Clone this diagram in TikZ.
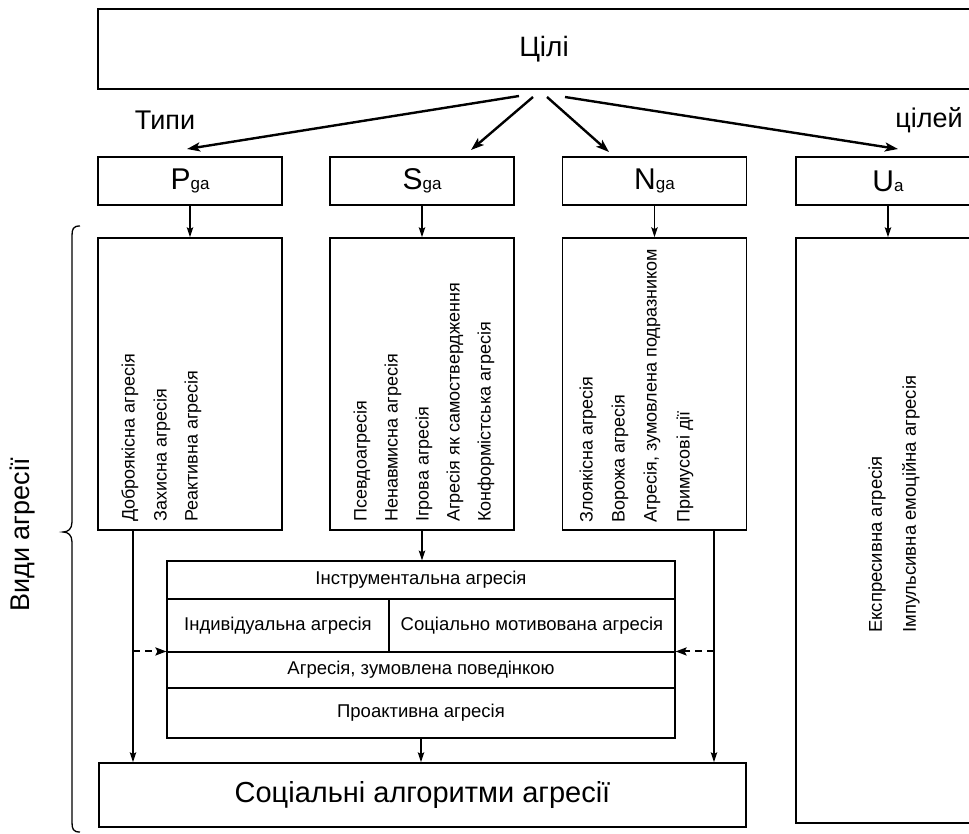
\documentclass[tikz,border=0pt]{standalone}
\usepackage{fontspec}
\setmainfont{Liberation Sans}
\usetikzlibrary{arrows.meta,calc}
\newcommand\myfs[1]{\fontsize{#1}{#1}\selectfont}
\begin{document}
\begin{tikzpicture}[x=1pt,y=-1pt,
  box/.style={draw, line width=1.6pt, inner sep=0pt},
  cell/.style={draw, line width=1.1pt, inner sep=0pt, font=\myfs{18.5}},
  vlab/.style={rotate=90, anchor=west, inner sep=0pt, font=\myfs{18}},
  bigarr/.style={line width=2.4pt, -{Stealth[length=13pt,width=9pt,inset=3pt]}},
  arr/.style={line width=1.3pt, -{Stealth[length=10pt,width=6.5pt,inset=2pt]}},
  dasharr/.style={line width=2pt, dash pattern=on 7pt off 5pt, -{Stealth[length=11pt,width=8pt,inset=2pt]}},
]
\useasboundingbox (0,0) rectangle (969,834);
\clip (0,0) rectangle (969,834);

% top box
\node[box, minimum width=892, minimum height=80] (goals) at (544,49) {\myfs{28}Цілі};
\node[font=\myfs{27}] (types) at (165,120) {Типи};
\node[font=\myfs{27}] (ofgoals) at (929,120) {цілей};

% small boxes
\node[box, minimum width=184, minimum height=48] (pga) at (190,181) {\myfs{30}P\myfs{17}ga};
\node[box, minimum width=184, minimum height=48] (sga) at (422,181) {\myfs{30}S\myfs{17}ga};
\node[box, minimum width=184, minimum height=48] (nga) at (654.5,181) {\myfs{30}N\myfs{17}ga};
\node[box, minimum width=184, minimum height=48] (ua) at (888,181) {\myfs{30}U\myfs{17}a};

% big boxes
\node[box, minimum width=184, minimum height=292] (pgab) at (190,384) {};
\node[box, minimum width=184, minimum height=292] (sgab) at (422,384) {};
\node[box, minimum width=184, minimum height=292] (ngab) at (654.5,384) {};
\node[box, minimum width=184, minimum height=585] (uab) at (888,530.5) {};

% rotated labels
\node[vlab] (p1) at (130,522) {Доброякісна агресія};
\node[vlab] (p2) at (162,522) {Захисна агресія};
\node[vlab] (p3) at (193,522) {Реактивна агресія};

\node[vlab] (s1) at (362,522) {Псевдоагресія};
\node[vlab] (s2) at (393,522) {Ненавмисна агресія};
\node[vlab] (s3) at (424,522) {Ігрова агресія};
\node[vlab] (s4) at (455,522) {Агресія як самоствердження};
\node[vlab] (s5) at (486,522) {Конформістська агресія};

\node[vlab] (n1) at (588,523) {Злоякісна агресія};
\node[vlab] (n2) at (620,523) {Ворожа агресія};
\node[vlab] (n3) at (652,523) {Агресія, зумовлена подразником};
\node[vlab] (n4) at (685,523) {Примусові дії};

\node[vlab, font=\myfs{18.5}] (u1) at (877,633) {Експресивна агресія};
\node[vlab, font=\myfs{18.5}] (u2) at (911,633) {Імпульсивна емоційна агресія};

% table
\node[cell, minimum width=508, minimum height=38] (r1) at (421,580) {Інструментальна агресія};
\node[cell, minimum width=222, minimum height=53] (r2a) at (278,625.5) {Індивідуальна агресія};
\node[cell, minimum width=286, minimum height=53] (r2b) at (532,625.5) {Соціально мотивована агресія};
\node[cell, minimum width=508, minimum height=36] (r3) at (421,670) {Агресія, зумовлена поведінкою};
\node[cell, minimum width=508, minimum height=50] (r4) at (421,713) {Проактивна агресія};

% bottom box
\node[box, minimum width=647, minimum height=64] (soc) at (422.5,795) {\myfs{29}Соціальні алгоритми агресії};

% side label and brace
\node[rotate=90, font=\myfs{27}] (kinds) at (23,535) {Види агресії};
\draw[line width=1.3pt] (80,226) .. controls (73,226) and (72,229) .. (72,236) -- (72,522)
  .. controls (72,529) and (68,532) .. (63,532) .. controls (68,532) and (72,535) .. (72,542)
  -- (72,822) .. controls (72,829) and (73,832) .. (80,832);

% top arrows
\coordinate (st1) at (519,96); \coordinate (en1) at (187,149);
\coordinate (st2) at (533,97); \coordinate (en2) at (471,150);
\coordinate (st3) at (547,97); \coordinate (en3) at (609,152);
\coordinate (st4) at (565,97); \coordinate (en4) at (898,149);
\draw[bigarr] (st1) -- (en1);
\draw[bigarr] (st2) -- (en2);
\draw[bigarr] (st3) -- (en3);
\draw[bigarr] (st4) -- (en4);

% small arrows
\draw[arr] (pga.south) -- (pgab.north);
\draw[arr] (sga.south) -- (sgab.north);
\draw[arr] (nga.south) -- (ngab.north);
\draw[arr] (ua.south) -- (uab.north);

\draw[arr] (sgab.south) -- (sgab.south |- r1.north);
\draw[arr] (r4.south) -- (r4.south |- soc.north);

\coordinate (lx) at (133,0);
\coordinate (rx) at (714,0);
\draw[arr] (lx |- pgab.south) -- (lx |- soc.north);
\draw[arr] (rx |- ngab.south) -- (rx |- soc.north);
\draw[dasharr] (lx |- r3.north) -- (r3.north west);
\draw[dasharr] (rx |- r3.north) -- (r3.north east);
\end{tikzpicture}
\end{document}
